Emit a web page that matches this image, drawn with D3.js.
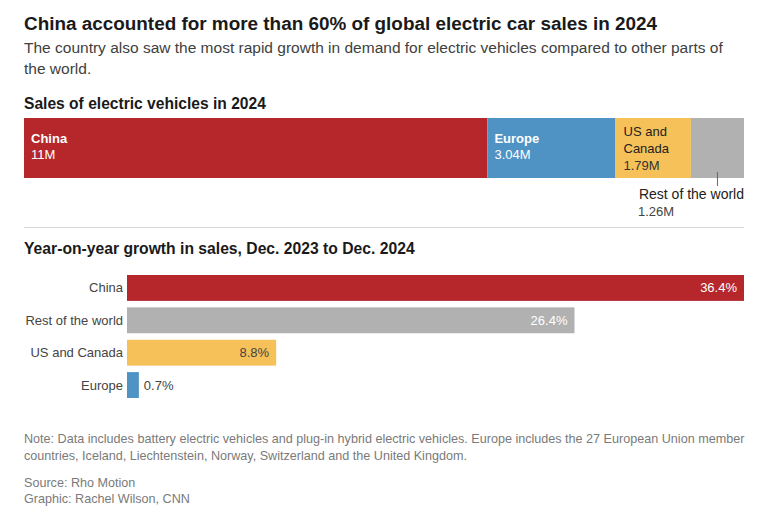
<!DOCTYPE html>
<html><head><meta charset="utf-8">
<script src="https://cdn.jsdelivr.net/npm/d3@7"></script>
<style>
html,body{margin:0;padding:0;background:#fff;}
svg{display:block;font-family:"Liberation Sans",Arial,sans-serif;}
</style></head>
<body>
<svg id="chart" width="776" height="519"></svg>
<script>
const regions = ["China", "Europe", "US and Canada", "Rest of the world"];
const sales = [11, 3.04, 1.79, 1.26];
const salesLabels = ["11M", "3.04M", "1.79M", "1.26M"];
const growthRegions = ["China", "Rest of the world", "US and Canada", "Europe"];
const growth = [36.4, 26.4, 8.8, 0.7];
const growthLabels = ["36.4%", "26.4%", "8.8%", "0.7%"];
const colors = {"China":"#b5272b","Europe":"#4f92c4","US and Canada":"#f6c158","Rest of the world":"#b1b1b1"};

const svg = d3.select("#chart");
const L = 24, R = 744;

// Titles
svg.append("text").attr("x", L).attr("y", 30).attr("font-size", 18.9).attr("font-weight", "bold").attr("fill", "#1a1a1a")
  .text("China accounted for more than 60% of global electric car sales in 2024");
svg.append("text").attr("x", L).attr("y", 53).attr("font-size", 15.5).attr("fill", "#404040")
  .text("The country also saw the most rapid growth in demand for electric vehicles compared to other parts of");
svg.append("text").attr("x", L).attr("y", 74).attr("font-size", 15.5).attr("fill", "#404040")
  .text("the world.");
svg.append("text").attr("x", L).attr("y", 109).attr("font-size", 15.6).attr("font-weight", "bold").attr("fill", "#1a1a1a")
  .text("Sales of electric vehicles in 2024");

// Stacked bar
const total = d3.sum(sales);
const xs = d3.scaleLinear().domain([0, total]).range([L, R]);
let cum = 0;
const stack = regions.map((r, i) => { const d = {r, v: sales[i], lab: salesLabels[i], x0: cum, x1: cum + sales[i]}; cum += sales[i]; return d; });
const y0 = 118, h0 = 60;
svg.append("g").selectAll("rect").data(stack).join("rect")
  .attr("x", d => xs(d.x0)).attr("width", d => xs(d.x1) - xs(d.x0))
  .attr("y", y0).attr("height", h0).attr("fill", d => colors[d.r]);

// labels inside
[0, 1].forEach(i => {
  const d = stack[i];
  svg.append("text").attr("x", xs(d.x0) + 7).attr("y", 143).attr("font-size", 13).attr("font-weight", "bold").attr("fill", "#fff").text(d.r);
  svg.append("text").attr("x", xs(d.x0) + 7).attr("y", 159).attr("font-size", 13).attr("fill", "#fff").text(d.lab);
});
{
  const d = stack[2];
  const tx = xs(d.x0) + 8;
  svg.append("text").attr("x", tx).attr("y", 136).attr("font-size", 13).attr("fill", "#222").text("US and");
  svg.append("text").attr("x", tx).attr("y", 153).attr("font-size", 13).attr("fill", "#222").text("Canada");
  svg.append("text").attr("x", tx).attr("y", 170).attr("font-size", 13).attr("fill", "#333").text(d.lab);
}
{
  const d = stack[3];
  const mx = (xs(d.x0) + xs(d.x1)) / 2;
  svg.append("line").attr("x1", mx).attr("x2", mx).attr("y1", 172).attr("y2", 186).attr("stroke", "#666").attr("stroke-width", 1);
  svg.append("text").attr("x", R).attr("y", 199).attr("text-anchor", "end").attr("font-size", 14).attr("fill", "#222").text(d.r);
  svg.append("text").attr("x", 638).attr("y", 216).attr("font-size", 13).attr("fill", "#444").text(d.lab);
}

// separator
svg.append("line").attr("x1", L).attr("x2", R).attr("y1", 227.5).attr("y2", 227.5).attr("stroke", "#d8d8d8").attr("stroke-width", 1);

svg.append("text").attr("x", L).attr("y", 254).attr("font-size", 15.7).attr("font-weight", "bold").attr("fill", "#1a1a1a")
  .text("Year-on-year growth in sales, Dec. 2023 to Dec. 2024");

// growth bars
const gx = d3.scaleLinear().domain([0, d3.max(growth)]).range([127, R]);
const gy = d3.scaleBand().domain(growthRegions).range([275, 398]).paddingInner(0.2).paddingOuter(0);
const gdata = growthRegions.map((r, i) => ({r, v: growth[i], lab: growthLabels[i]}));
svg.append("g").selectAll("rect").data(gdata).join("rect")
  .attr("x", gx(0)).attr("y", d => gy(d.r)).attr("width", d => gx(d.v) - gx(0)).attr("height", gy.bandwidth())
  .attr("fill", d => colors[d.r]);
svg.append("g").selectAll("text").data(gdata).join("text")
  .attr("x", 123).attr("y", d => gy(d.r) + gy.bandwidth() / 2 + 4.5).attr("text-anchor", "end")
  .attr("font-size", 13).attr("fill", "#444").text(d => d.r);
svg.append("g").selectAll("text").data(gdata).join("text")
  .attr("x", d => d.v > 5 ? gx(d.v) - 7 : gx(d.v) + 5)
  .attr("y", d => gy(d.r) + gy.bandwidth() / 2 + 4.5)
  .attr("text-anchor", d => d.v > 5 ? "end" : "start")
  .attr("font-size", 13)
  .attr("fill", d => (d.r === "China" || d.r === "Rest of the world") ? "#fff" : "#444")
  .text(d => d.lab);

// notes
const noteStyle = s => s.attr("font-size", 12.6).attr("fill", "#7a7a7a");
svg.append("text").attr("x", L).attr("y", 443).call(noteStyle)
  .text("Note: Data includes battery electric vehicles and plug-in hybrid electric vehicles. Europe includes the 27 European Union member");
svg.append("text").attr("x", L).attr("y", 460).call(noteStyle)
  .text("countries, Iceland, Liechtenstein, Norway, Switzerland and the United Kingdom.");
svg.append("text").attr("x", L).attr("y", 487).call(noteStyle).text("Source: Rho Motion");
svg.append("text").attr("x", L).attr("y", 503).call(noteStyle).text("Graphic: Rachel Wilson, CNN");
</script>
</body></html>
